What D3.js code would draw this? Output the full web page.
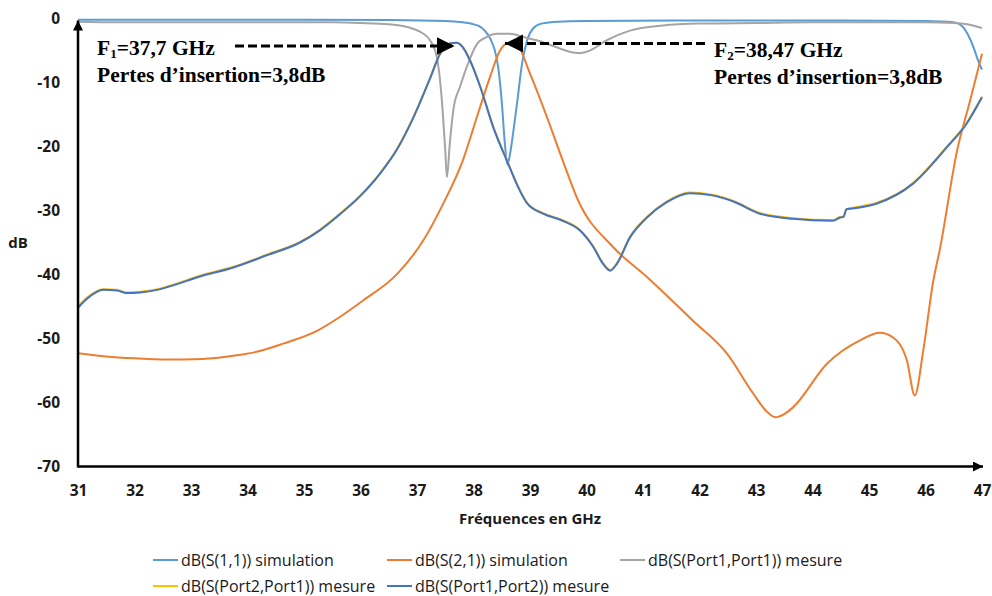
<!DOCTYPE html>
<html><head><meta charset="utf-8">
<script src="https://cdn.jsdelivr.net/npm/d3@7"></script>
<style>body{margin:0;background:#fff}svg{display:block}</style>
</head><body>
<svg id="chart" width="992" height="596"></svg>
<script>
// ---- data ----
const xTicks = [31,32,33,34,35,36,37,38,39,40,41,42,43,44,45,46,47];
const yTicks = [0,-10,-20,-30,-40,-50,-60,-70];

const s11Freq = [31,33,35,36.5,37.5,37.8,38.0,38.1,38.2,38.3,38.4,38.45,38.5,38.55,38.6,38.64,38.7,38.77,38.86,38.95,39.05,39.2,39.5,40,42,44,46,46.5,46.65,46.75,46.85,46.92,47];
const s11Sim  = [-0.2,-0.2,-0.2,-0.25,-0.4,-0.6,-0.9,-1.2,-1.9,-3.2,-5.8,-8.5,-13,-19,-22.8,-21.5,-18,-13.3,-7,-3.4,-1.6,-0.8,-0.5,-0.4,-0.3,-0.3,-0.4,-0.6,-1.2,-2.5,-4.5,-6.3,-8];

const s21Freq = [31,31.5,32,32.57,33.2,33.75,34.2,34.63,35.23,35.64,36.04,36.65,37.11,37.46,37.81,38.06,38.29,38.47,38.59,38.77,39,39.3,39.58,39.85,40.47,41.07,41.48,41.88,42.49,42.95,43.2,43.34,43.5,43.65,44.26,44.84,45.19,45.42,45.67,45.81,45.96,46.13,46.26,46.56,46.79,47];
const s21Sim  = [-52.3,-52.8,-53.1,-53.3,-53.2,-52.7,-52,-50.8,-48.8,-46.6,-44.1,-39.9,-34.7,-29,-22.2,-15.4,-9.2,-5,-3.9,-4.2,-8.6,-15.4,-22.2,-28.4,-35.7,-40.4,-43.8,-47.2,-52.4,-58.6,-61.5,-62.3,-61.8,-60.8,-53.9,-50.3,-49.1,-49.8,-53.4,-58.9,-51.9,-41.4,-35.8,-20.6,-12.8,-5.5];

const p11Freq = [31,32,33,34,35,35.5,36,36.5,36.93,37.1,37.23,37.35,37.44,37.5,37.53,37.58,37.65,37.76,37.88,38.06,38.23,38.42,38.65,38.88,39.12,39.47,39.76,39.9,40.06,40.36,40.77,41.35,42,43,44,45,46,46.5,46.8,47];
const p11Mes  = [-0.5,-0.6,-0.6,-0.6,-0.6,-0.6,-0.7,-0.9,-1.6,-2.3,-3.4,-6,-12.8,-20.6,-24.8,-19.6,-13.9,-10.7,-7.6,-4,-2.9,-2.4,-2.4,-2.9,-3.4,-4.5,-5.3,-5.4,-5,-3.4,-1.9,-1.1,-0.8,-0.7,-0.6,-0.6,-0.6,-0.7,-1,-1.5];

const p21Freq = [31,31.16,31.45,31.69,31.86,32.1,32.4,32.68,33.16,33.75,34.34,34.93,35.28,35.58,35.99,36.35,36.65,36.93,37.23,37.41,37.58,37.7,37.81,37.94,38.12,38.35,38.59,38.82,38.95,39.23,39.58,39.88,40.12,40.29,40.42,40.54,40.77,41.07,41.42,41.83,42.2,42.6,43.07,43.65,44.36,44.49,44.55,44.6,44.7,45.14,45.78,46.38,46.73,47];
const p21Mes  = [-45.0,-43.6,-42.3,-42.4,-42.8,-42.7,-42.3,-41.6,-40.2,-38.8,-36.9,-34.9,-33.0,-30.9,-27.7,-24.1,-20.3,-15.5,-9.3,-5.4,-3.9,-3.8,-4.4,-6.5,-10.6,-16.9,-22.1,-26.8,-28.8,-30.4,-31.5,-33.0,-35.6,-38.2,-39.3,-38.2,-34.1,-31.0,-28.6,-27.2,-27.5,-28.5,-30.4,-31.2,-31.5,-31.0,-30.9,-29.8,-29.6,-28.8,-25.7,-20.0,-16.3,-12.2];

const p12Freq = p21Freq;
const p12Mes  = [-45.2,-43.8,-42.4,-42.5,-42.9,-42.8,-42.4,-41.7,-40.3,-38.9,-37,-35,-33.1,-31.0,-27.8,-24.2,-20.4,-15.6,-9.4,-5.5,-3.9,-3.8,-4.5,-6.6,-10.7,-17,-22.2,-26.9,-28.9,-30.5,-31.6,-33.1,-35.7,-38.3,-39.4,-38.3,-34.2,-31.1,-28.7,-27.3,-27.6,-28.6,-30.5,-31.3,-31.6,-31.1,-31,-29.8,-29.7,-28.9,-25.8,-20.1,-16.4,-12.3];

const seriesNames = ["dB(S(1,1)) simulation","dB(S(2,1)) simulation","dB(S(Port1,Port1)) mesure","dB(S(Port2,Port1)) mesure","dB(S(Port1,Port2)) mesure"];
const seriesColors = ["#5B9BD5","#ED7D31","#A5A5A5","#FFC000","#4472C4"];
const annotations = [
  {sym:"F", sub:"1", val:"=37,7 GHz", loss:"Pertes d\u2019insertion=3,8dB"},
  {sym:"F", sub:"2", val:"=38,47 GHz", loss:"Pertes d\u2019insertion=3,8dB"}
];
const arrowFreqs = [37.7, 38.47];

// ---- chart ----
const svg = d3.select("#chart");
const x = d3.scaleLinear().domain([31,47]).range([78,982]);
const y = d3.scaleLinear().domain([-70,0]).range([466.5,18.5]);

const defs = svg.append("defs");
defs.append("marker").attr("id","ah").attr("viewBox","0 0 10 10").attr("refX",10).attr("refY",5)
  .attr("markerWidth",6).attr("markerHeight",6).attr("markerUnits","strokeWidth").attr("orient","auto")
  .append("path").attr("d","M0,0L10,5L0,10Z").attr("fill","#000");
defs.append("marker").attr("id","axh").attr("viewBox","0 0 10 10").attr("refX",10).attr("refY",5)
  .attr("markerWidth",5).attr("markerHeight",4).attr("markerUnits","strokeWidth").attr("orient","auto")
  .append("path").attr("d","M0,0L10,5L0,10Z").attr("fill","#000");

const uiFont = "'Open Sans', 'Noto Sans', sans-serif";
const serif = "'Liberation Serif','Times New Roman',serif";

// axes
const xAxis = d3.axisBottom(x).tickValues(xTicks).tickSize(0).tickPadding(18).tickFormat(d3.format("d"));
const gx = svg.append("g").attr("transform",`translate(0,${y(-70)})`).call(xAxis);
gx.select(".domain").remove();
gx.selectAll("text").attr("font-family",uiFont).attr("font-weight","bold").attr("font-size",15.5).attr("fill","#1a1a1a");

const yAxis = d3.axisLeft(y).tickValues(yTicks).tickSize(0).tickPadding(18).tickFormat(d3.format("d"));
const gy = svg.append("g").attr("transform",`translate(${x(31)},0)`).call(yAxis);
gy.select(".domain").remove();
gy.selectAll("text").attr("font-family",uiFont).attr("font-weight","bold").attr("font-size",15.5).attr("fill","#1a1a1a")
  .text(d => d < 0 ? "-" + Math.abs(d) : d);

// series lines
const line = d3.line().x(d=>x(d[0])).y(d=>y(d[1])).curve(d3.curveMonotoneX);
const seriesData = [
  d3.zip(s11Freq, s11Sim),
  d3.zip(s21Freq, s21Sim),
  d3.zip(p11Freq, p11Mes),
  d3.zip(p21Freq, p21Mes),
  d3.zip(p12Freq, p12Mes)
];
svg.append("g").selectAll("path").data(seriesData).join("path")
  .attr("d", line).attr("fill","none")
  .attr("stroke",(d,i)=>seriesColors[i]).attr("stroke-width",2).attr("stroke-linejoin","round");

// axis lines with arrows
svg.append("line").attr("x1",x(31)).attr("x2",x(47)+1).attr("y1",y(-70)).attr("y2",y(-70))
  .attr("stroke","#000").attr("stroke-width",2.5).attr("marker-end","url(#axh)");
svg.append("line").attr("x1",x(31)).attr("x2",x(31)).attr("y1",y(-70)+1).attr("y2",y(0)+2)
  .attr("stroke","#000").attr("stroke-width",2.5).attr("marker-end","url(#axh)");

// axis titles
svg.append("text").attr("x",18).attr("y",y(-35)+5).attr("text-anchor","middle")
  .attr("font-family",uiFont).attr("font-weight","bold").attr("font-size",15).attr("fill","#1a1a1a").text("dB");
svg.append("text").attr("x",(x(31)+x(47))/2).attr("y",524).attr("text-anchor","middle")
  .attr("font-family",uiFont).attr("font-weight","bold").attr("font-size",15).attr("fill","#1a1a1a").text("Fréquences en GHz");

// annotations
const annPos = [{x:97, y1:55, y2:82}, {x:714, y1:57, y2:84}];
annotations.forEach((a,i)=>{
  const p = annPos[i];
  const t = svg.append("text").attr("x",p.x).attr("y",p.y1)
    .attr("font-family",serif).attr("font-weight","bold").attr("font-size",21.5).attr("fill","#000");
  t.append("tspan").text(a.sym);
  t.append("tspan").attr("font-size",13).attr("dy",3).text(a.sub);
  t.append("tspan").attr("dy",-3).text(a.val);
  svg.append("text").attr("x",p.x).attr("y",p.y2)
    .attr("font-family",serif).attr("font-weight","bold").attr("font-size",21.5).attr("fill","#000")
    .text(a.loss);
});
// dashed arrows
svg.append("line").attr("x1",235).attr("x2",x(arrowFreqs[0])-2).attr("y1",y(-4.3)).attr("y2",y(-4.3))
  .attr("stroke","#000").attr("stroke-width",3).attr("stroke-dasharray","9,4").attr("marker-end","url(#ah)");
svg.append("line").attr("x1",705).attr("x2",x(arrowFreqs[1])+5).attr("y1",y(-3.9)).attr("y2",y(-3.9))
  .attr("stroke","#000").attr("stroke-width",3).attr("stroke-dasharray","9,4").attr("marker-end","url(#ah)");

// legend
const legPos = [[153,560],[387,560],[620,560],[153,586],[387,586]];
const leg = svg.append("g").selectAll("g").data(seriesNames).join("g")
  .attr("transform",(d,i)=>`translate(${legPos[i][0]},${legPos[i][1]})`);
leg.append("line").attr("x1",0).attr("x2",25).attr("y1",0).attr("y2",0)
  .attr("stroke",(d,i)=>seriesColors[i]).attr("stroke-width",2);
leg.append("text").attr("x",28).attr("y",5.5).attr("font-family",uiFont).attr("font-size",16).attr("fill","#1a1a1a").text(d=>d);
</script>
</body></html>
